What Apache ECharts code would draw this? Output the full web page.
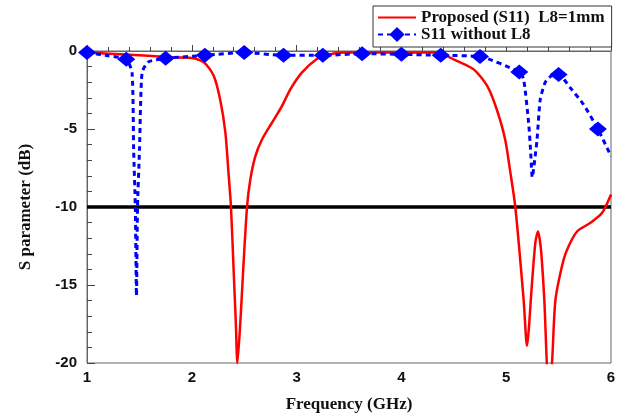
<!DOCTYPE html>
<html>
<head>
<meta charset="utf-8">
<script src="https://cdn.jsdelivr.net/npm/echarts@6/dist/echarts.min.js"></script>
<style>
html,body{margin:0;padding:0;background:#fff;}
#chart{width:622px;height:418px;}
</style>
</head>
<body>
<div id="chart"></div>
<script>
// ---- data ----
const redName = 'Proposed (S11)  L8=1mm';
const redFreq = [1.0, 1.5, 1.75, 2.0, 2.12, 2.21, 2.27, 2.32, 2.35, 2.374, 2.40, 2.42, 2.435, 2.463, 2.489, 2.527, 2.558, 2.606, 2.67, 2.765, 2.86, 2.94, 3.05, 3.19, 3.3, 3.45, 3.8, 4.3, 4.42, 4.53, 4.69, 4.82, 4.91, 4.99, 5.04, 5.087, 5.167, 5.198, 5.246, 5.278, 5.303, 5.332, 5.364, 5.40, 5.415, 5.437, 5.469, 5.532, 5.58, 5.676, 5.80, 5.914, 6.0];
const redDb   = [-0.1, -0.27, -0.38, -0.45, -0.75, -1.6, -3.1, -5.2, -7.8, -10, -14.2, -17.4, -20, -17.4, -14.2, -10, -8.25, -6.75, -5.67, -4.6, -3.53, -2.46, -1.39, -0.53, -0.25, -0.1, -0.1, -0.1, -0.3, -0.64, -1.18, -2.25, -3.75, -5.67, -7.8, -10, -16, -18.9, -14.9, -12.3, -11.57, -12.75, -16, -21, -21, -20, -16, -13.8, -12.75, -11.57, -11.03, -10.39, -9.2];

const blueName = 'S11 without L8';
const blueFreq = [1.0, 1.2, 1.375, 1.43, 1.445, 1.461, 1.472, 1.482, 1.501, 1.525, 1.585, 1.75, 2.125, 2.5, 2.875, 3.25, 3.625, 4.0, 4.375, 4.75, 5.125, 5.166, 5.214, 5.232, 5.249, 5.272, 5.294, 5.325, 5.373, 5.43, 5.5, 5.61, 5.735, 5.875, 6.0];
const blueDb   = [-0.1, -0.3, -0.53, -1.4, -6.3, -10, -15.7, -10, -6.3, -1.4, -0.7, -0.47, -0.28, -0.1, -0.28, -0.28, -0.17, -0.21, -0.28, -0.36, -1.35, -1.8, -4.6, -6.3, -8.1, -7.0, -5.7, -3.1, -2.0, -1.6, -1.5, -2.35, -3.4, -5.0, -6.75];
const blueMarkerFreq = [1.0, 1.375, 1.75, 2.125, 2.5, 2.875, 3.25, 3.625, 4.0, 4.375, 4.75, 5.125, 5.5, 5.875];

const thresholdFreq = [1, 6];
const thresholdDb = [-10, -10];

const xTicks = [1, 2, 3, 4, 5, 6];
const yTicks = [0, -5, -10, -15, -20];

// ---- build chart ----
const redData = redFreq.map((f, i) => [f, redDb[i]]);
const blueData = blueFreq.map((f, i) => {
  const item = { value: [f, blueDb[i]] };
  if (blueMarkerFreq.indexOf(f) < 0) item.symbol = 'none';
  return item;
});
const thrData = thresholdFreq.map((f, i) => [f, thresholdDb[i]]);

const axisLabelStyle = { fontFamily: 'Liberation Sans', fontWeight: 'bold', fontSize: 15, color: '#111' };
const nameStyle = { fontFamily: 'Liberation Serif', fontWeight: 'bold', fontSize: 17, color: '#111' };

const chart = echarts.init(document.getElementById('chart'), null, { renderer: 'canvas' });
chart.setOption({
  animation: false,
  backgroundColor: '#fff',
  grid: { left: 87, right: 11, top: 51, bottom: 55, show: true, borderColor: '#666', borderWidth: 1, backgroundColor: 'transparent' },
  legend: {
    data: [
      { name: redName, itemStyle: { opacity: 0 } },
      { name: blueName }
    ],
    orient: 'vertical',
    left: 373, top: 6,
    padding: [3, 7, 4, 4],
    itemGap: 0,
    itemWidth: 38, itemHeight: 19,
    backgroundColor: '#fff',
    borderColor: '#333', borderWidth: 1,
    textStyle: { fontFamily: 'Liberation Serif', fontWeight: 'bold', fontSize: 17, color: '#111' },
    z: 10
  },
  xAxis: {
    type: 'value', min: xTicks[0], max: xTicks[xTicks.length - 1], interval: 1,
    name: 'Frequency (GHz)', nameLocation: 'middle', nameGap: 33, nameTextStyle: nameStyle,
    axisLine: { show: true, lineStyle: { color: '#666', width: 1 } },
    axisTick: { show: true, inside: true, length: 6, lineStyle: { color: '#444' } },
    minorTick: { show: true, splitNumber: 5, length: 4, lineStyle: { color: '#444' } },
    splitLine: { show: false },
    axisLabel: Object.assign({ margin: 7 }, axisLabelStyle)
  },
  yAxis: {
    type: 'value', min: yTicks[yTicks.length - 1], max: yTicks[0], interval: 5,
    name: 'S parameter (dB)', nameLocation: 'middle', nameGap: 53, nameRotate: 90, nameTextStyle: nameStyle,
    axisLine: { show: true, lineStyle: { color: '#666', width: 1 } },
    axisTick: { show: true, inside: true, length: 8, lineStyle: { color: '#444' } },
    minorTick: { show: true, splitNumber: 5, length: 5, lineStyle: { color: '#444' } },
    splitLine: { show: false },
    axisLabel: Object.assign({ margin: 10 }, axisLabelStyle)
  },
  series: [
    {
      name: 'threshold', type: 'line', data: thrData, symbol: 'none', silent: true,
      lineStyle: { color: '#000', width: 3.5 }, z: 1
    },
    {
      name: redName, type: 'line', data: redData, symbol: 'none', smooth: 0.25,
      lineStyle: { color: '#f00', width: 2.5 }, itemStyle: { color: '#f00' }, z: 3
    },
    {
      name: blueName, type: 'line', data: blueData, symbol: 'diamond', symbolSize: [18, 15],
      showSymbol: true, smooth: 0.2,
      lineStyle: { color: '#0000ff', width: 3, type: [5, 4] },
      itemStyle: { color: '#0000ff', borderWidth: 0 }, z: 4
    }
  ]
});
</script>
</body>
</html>
